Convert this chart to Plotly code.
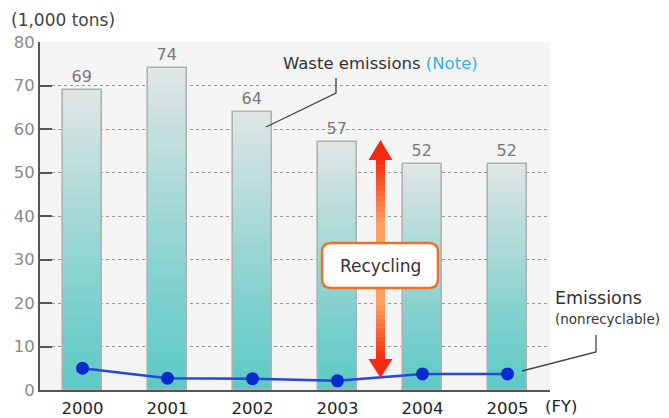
import plotly.graph_objects as go

# ---------------- data ----------------
years = ["2000", "2001", "2002", "2003", "2004", "2005"]
waste = [69, 74, 64, 57, 52, 52]
emissions_nonrecyclable = [5.0, 2.7, 2.6, 2.1, 3.7, 3.7]
y_ticks = [0, 10, 20, 30, 40, 50, 60, 70, 80]

# ---------------- geometry helpers (pixel -> paper) ----------------
W, H = 669, 418
ML, MR, MT, MB = 40, 119, 42, 28
PLOT_W = W - ML - MR
PLOT_H = H - MT - MB
NCAT = len(years)
YMAX = 80


def px(p):
    return (p - ML) / PLOT_W


def py(p):
    return (H - MB - p) / PLOT_H


def lerp_color(c1, c2, t):
    a = [int(c1[i:i + 2], 16) for i in (1, 3, 5)]
    b = [int(c2[i:i + 2], 16) for i in (1, 3, 5)]
    return "rgb(%d,%d,%d)" % tuple(round(a[k] + (b[k] - a[k]) * t) for k in range(3))


FONT = "DejaVu Sans"
BAR_W = 0.47
BOTTOM_COL = "#5cc9c5"
TOP_COL = "#e1e5e5"

fig = go.Figure()

# gradient bars: each bar drawn as stacked slices of its own value
N = 40
for i in range(N):
    t = (i + 0.5) / N
    fig.add_trace(go.Bar(
        x=years,
        y=[v / N for v in waste],
        base=[v * i / N for v in waste],
        width=BAR_W,
        marker=dict(color=lerp_color(BOTTOM_COL, TOP_COL, t ** 1.1), line=dict(width=0)),
        showlegend=False, hoverinfo="skip",
    ))

# outline + value labels
fig.add_trace(go.Bar(
    x=years, y=waste, base=[0] * NCAT, width=BAR_W,
    marker=dict(color="rgba(0,0,0,0)", line=dict(color="#aeb2b2", width=1.6)),
    text=[str(v) for v in waste], textposition="outside",
    textfont=dict(family=FONT, size=16, color="#7a7a7a"),
    cliponaxis=False, showlegend=False, name="Waste emissions",
))

# emissions line
fig.add_trace(go.Scatter(
    x=years, y=emissions_nonrecyclable, mode="lines+markers",
    line=dict(color="#2646e0", width=2.5),
    marker=dict(color="#0a2ad0", size=13),
    showlegend=False, name="Emissions (nonrecyclable)",
))

shapes = []

# recycling arrow (gradient, built from small rectangles) - pixel positions
cxp = 380.5
top_tip, top_base = 140, 160
bot_tip, bot_base = 378, 359
box_top, box_bot = 243, 288
RED, ORANGE_L = "#f42a14", "#ffa060"


def shaft(p0, p1):
    n = 16
    for k in range(n):
        a = p0 + (p1 - p0) * k / n
        b = p0 + (p1 - p0) * (k + 1) / n
        t = min(1.0, ((k + 0.5) / n) * 1.3)
        shapes.append(dict(type="rect", xref="paper", yref="paper",
                           x0=px(cxp - 4.5), x1=px(cxp + 4.5),
                           y0=py(a), y1=py(b + (0.6 if b > a else -0.6)),
                           fillcolor=lerp_color(RED, ORANGE_L, t),
                           line=dict(width=0), layer="above"))


shaft(top_base, box_top)
shaft(bot_base, box_bot)
shapes.append(dict(type="path", xref="paper", yref="paper",
                   path="M %f,%f L %f,%f L %f,%f Z" % (px(cxp - 12), py(top_base), px(cxp), py(top_tip), px(cxp + 12), py(top_base)),
                   fillcolor=RED, line=dict(width=0), layer="above"))
shapes.append(dict(type="path", xref="paper", yref="paper",
                   path="M %f,%f L %f,%f L %f,%f Z" % (px(cxp - 12), py(bot_base), px(cxp), py(bot_tip), px(cxp + 12), py(bot_base)),
                   fillcolor=RED, line=dict(width=0), layer="above"))

# rounded Recycling box
bx0, bx1, by0, by1, r = 322, 438, 243, 288, 9
path = ("M %f,%f L %f,%f Q %f,%f %f,%f L %f,%f Q %f,%f %f,%f L %f,%f Q %f,%f %f,%f L %f,%f Q %f,%f %f,%f Z" % (
    px(bx0 + r), py(by0), px(bx1 - r), py(by0),
    px(bx1), py(by0), px(bx1), py(by0 + r),
    px(bx1), py(by1 - r),
    px(bx1), py(by1), px(bx1 - r), py(by1),
    px(bx0 + r), py(by1),
    px(bx0), py(by1), px(bx0), py(by1 - r),
    px(bx0), py(by0 + r),
    px(bx0), py(by0), px(bx0 + r), py(by0)))
shapes.append(dict(type="path", xref="paper", yref="paper", path=path,
                   fillcolor="white", line=dict(color="#f07028", width=2.5), layer="above"))

# leader lines
shapes.append(dict(type="path", xref="paper", yref="paper",
                   path="M %f,%f L %f,%f L %f,%f" % (px(336), py(78), px(336), py(93), px(266), py(127)),
                   line=dict(color="#444444", width=1.3), layer="above"))
shapes.append(dict(type="path", xref="paper", yref="paper",
                   path="M %f,%f L %f,%f L %f,%f" % (px(596), py(335), px(596), py(352), px(522), py(371)),
                   line=dict(color="#444444", width=1.3), layer="above"))

annotations = [
    dict(text="(1,000 tons)", xref="paper", yref="paper", x=px(9), y=py(20),
         xanchor="left", yanchor="middle", showarrow=False,
         font=dict(family=FONT, size=17, color="#444444")),
    dict(text="Waste emissions <span style='color:#3aaee2'>(Note)</span>", xref="paper", yref="paper",
         x=px(281), y=py(64), xanchor="left", yanchor="middle", showarrow=False,
         font=dict(family=FONT, size=16.5, color="#333333")),
    dict(text="Recycling", xref="paper", yref="paper", x=px(cxp), y=py(266), xanchor="center", yanchor="middle",
         showarrow=False, font=dict(family=FONT, size=17, color="#333333")),
    dict(text="Emissions", xref="paper", yref="paper", x=px(553), y=py(298), xanchor="left", yanchor="middle",
         showarrow=False, font=dict(family=FONT, size=17.5, color="#333333")),
    dict(text="(nonrecyclable)", xref="paper", yref="paper", x=px(553), y=py(319), xanchor="left", yanchor="middle",
         showarrow=False, font=dict(family=FONT, size=13.5, color="#333333")),
    dict(text="(FY)", xref="paper", yref="paper", x=px(543), y=py(406), xanchor="left", yanchor="middle",
         showarrow=False, font=dict(family=FONT, size=16.5, color="#222222")),
]

fig.update_layout(
    width=W, height=H,
    margin=dict(l=ML, r=MR, t=MT, b=MB, autoexpand=False),
    paper_bgcolor="white", plot_bgcolor="#f4f4f4",
    barmode="overlay", bargap=0,
    shapes=shapes, annotations=annotations,
    font=dict(family=FONT),
)
fig.update_xaxes(
    type="category", range=[-0.5, NCAT - 0.5], automargin=False,
    showgrid=False, showline=True, linecolor="#555555", linewidth=2,
    ticks="", tickfont=dict(family=FONT, size=16.5, color="#222222"),
    ticklabelstandoff=2, fixedrange=True,
)
fig.update_yaxes(
    range=[0, YMAX], tickvals=y_ticks, ticktext=[str(v) for v in y_ticks], automargin=False,
    showgrid=True, gridcolor="#9a9a9a", griddash="dot", gridwidth=1,
    showline=True, linecolor="#555555", linewidth=2,
    ticks="inside", ticklen=12, tickwidth=2, tickcolor="#555555",
    tickfont=dict(family=FONT, size=16.5, color="#8a8a8a"),
    zeroline=False, fixedrange=True,
)

fig.write_html(
    "out.html",
    config={"displayModeBar": False},
    post_script="document.body.style.margin='0';document.body.style.overflow='hidden';",
)
